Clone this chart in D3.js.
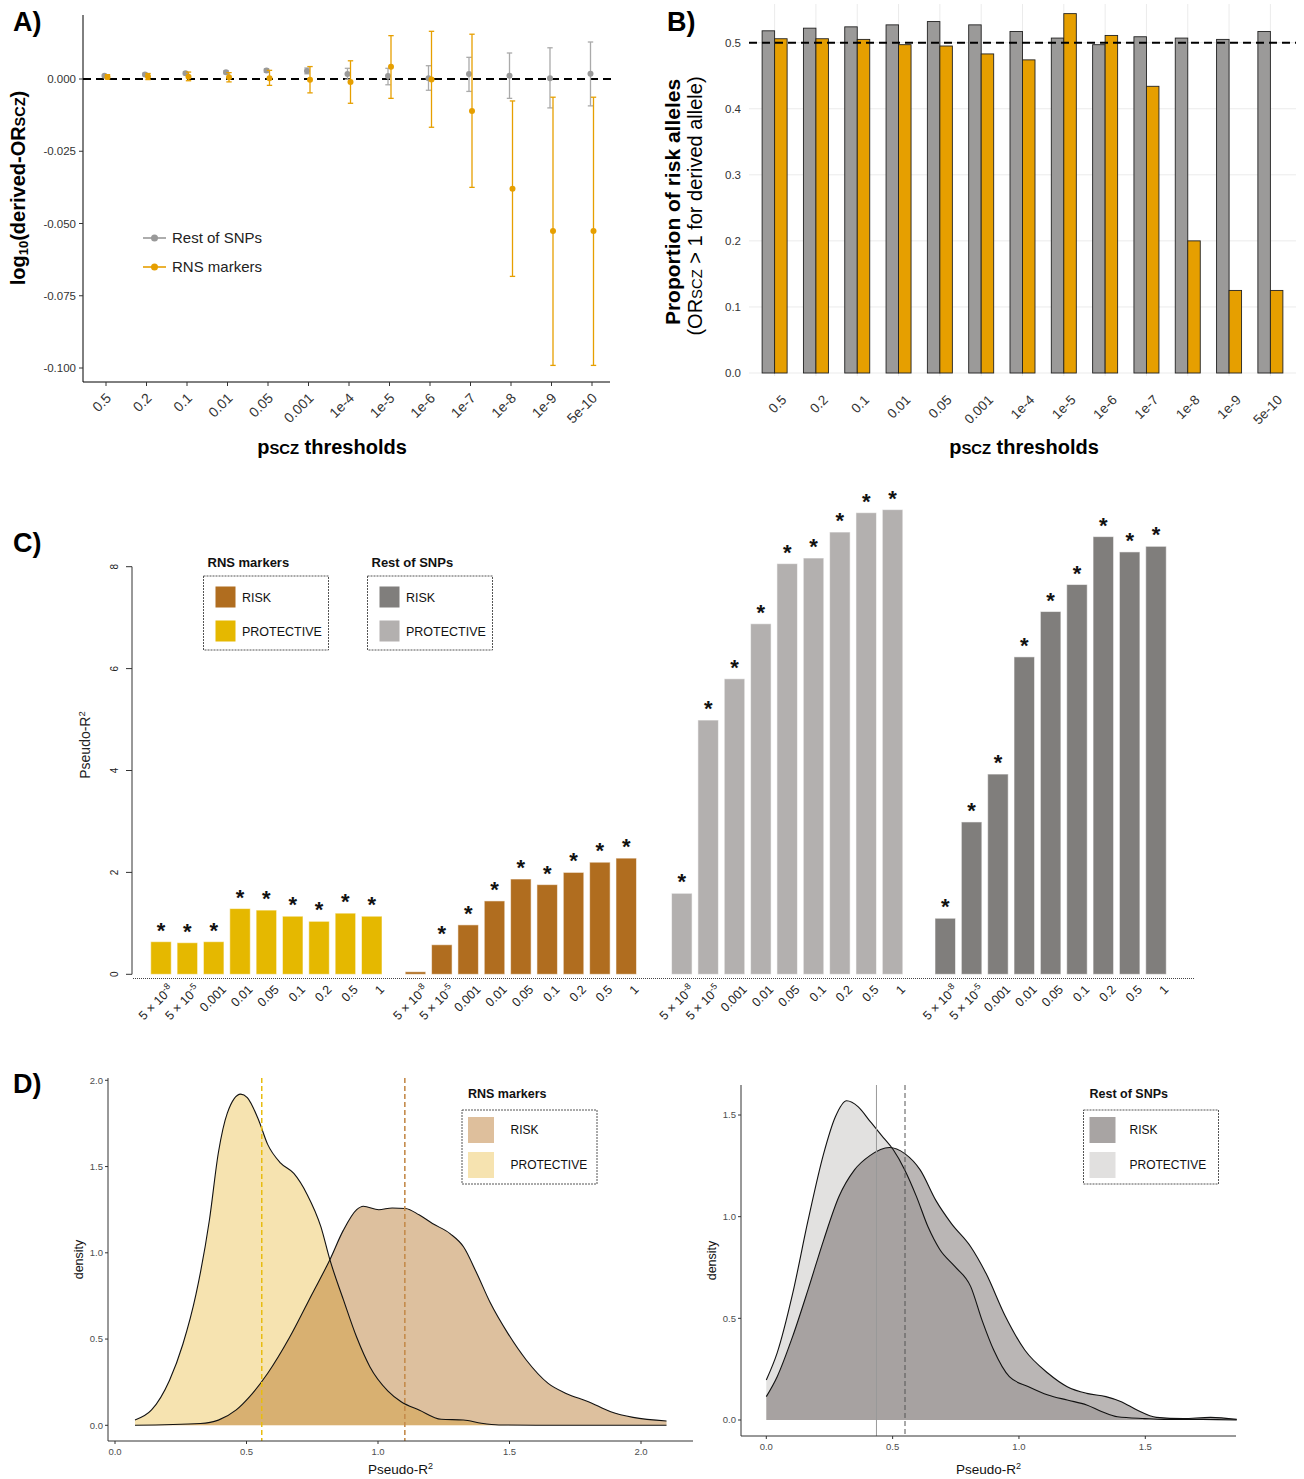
<!DOCTYPE html>
<html>
<head>
<meta charset="utf-8">
<script src="https://cdn.jsdelivr.net/npm/d3@7"></script>
<style>
  body { margin: 0; background: #fff; }
  svg text { font-family: "Liberation Sans", Arial, Helvetica, sans-serif; }
</style>
</head>
<body>
<svg id="fig" width="1304" height="1479"></svg>
<script>
// ---------- Panels A & B: p-value thresholds ----------
const thresholdsAB = ["0.5","0.2","0.1","0.01","0.05","0.001","1e-4","1e-5","1e-6","1e-7","1e-8","1e-9","5e-10"];

// A) mean log10(derived OR) with confidence interval
const restLog10OR = [0.0011,0.0016,0.0020,0.0023,0.0029,0.0028,0.0017,0.0010,0.0003,0.0017,0.0011,0.0003,0.0018];
const restLow     = [0.0008,0.0012,0.0015,0.0018,0.0023,0.0018,-0.0001,-0.0020,-0.0039,-0.0043,-0.0067,-0.0100,-0.0093];
const restHigh    = [0.0014,0.0020,0.0025,0.0028,0.0035,0.0038,0.0037,0.0037,0.0046,0.0075,0.0090,0.0108,0.0128];
const rnsLog10OR  = [0.0007,0.0009,0.0008,0.0006,0.0003,-0.0003,-0.0010,0.0042,-0.0002,-0.0111,-0.0380,-0.0526,-0.0526];
const rnsLow      = [0.0000,-0.0002,-0.0006,-0.0010,-0.0022,-0.0048,-0.0084,-0.0067,-0.0167,-0.0375,-0.0683,-0.0991,-0.0991];
const rnsHigh     = [0.0015,0.0019,0.0024,0.0022,0.0030,0.0043,0.0063,0.0150,0.0165,0.0155,-0.0076,-0.0063,-0.0063];

// B) proportion of risk alleles
const restRiskProportion = [0.518,0.522,0.524,0.527,0.532,0.527,0.517,0.507,0.497,0.509,0.507,0.505,0.517];
const rnsRiskProportion  = [0.506,0.506,0.505,0.497,0.495,0.483,0.474,0.544,0.511,0.434,0.200,0.125,0.125];

// ---------- Panel C: PRS pseudo-R2 ----------
const prsThresholds = ["5 × 10^-8","5 × 10^-5","0.001","0.01","0.05","0.1","0.2","0.5","1"];
const rnsProtectiveR2  = [0.64,0.62,0.64,1.29,1.26,1.14,1.04,1.20,1.14];
const rnsRiskR2        = [0.05,0.58,0.97,1.44,1.87,1.76,2.00,2.20,2.28];
const restProtectiveR2 = [1.59,4.99,5.80,6.88,8.06,8.17,8.68,9.06,9.12];
const restRiskR2       = [1.10,2.99,3.93,6.23,7.12,7.65,8.59,8.29,8.40];
const rnsProtectiveSig  = [1,1,1,1,1,1,1,1,1];
const rnsRiskSig        = [0,1,1,1,1,1,1,1,1];
const restProtectiveSig = [1,1,1,1,1,1,1,1,1];
const restRiskSig       = [1,1,1,1,1,1,1,1,1];

// ---------- Panel D: pseudo-R2 densities ----------
const rnsProtectiveDensity = [[0.076,0.031],[0.139,0.089],[0.207,0.26],[0.258,0.47],[0.308,0.76],[0.359,1.19],[0.393,1.58],[0.427,1.81],[0.478,1.92],[0.503,1.90],[0.546,1.77],[0.58,1.63],[0.63,1.52],[0.68,1.46],[0.73,1.34],[0.783,1.15],[0.817,0.96],[0.868,0.73],[0.919,0.51],[0.969,0.34],[1.037,0.20],[1.088,0.137],[1.156,0.089],[1.24,0.035],[1.325,0.031],[1.393,0.012],[1.46,0.002],[1.6,0.0],[1.8,0.0],[2.097,0.0]];
const rnsRiskDensity = [[0.076,0.0],[0.325,0.01],[0.393,0.03],[0.461,0.089],[0.512,0.166],[0.58,0.30],[0.664,0.51],[0.749,0.76],[0.817,0.96],[0.868,1.13],[0.919,1.25],[0.944,1.27],[1.003,1.25],[1.054,1.26],[1.105,1.257],[1.156,1.22],[1.207,1.17],[1.275,1.11],[1.325,1.035],[1.376,0.88],[1.427,0.71],[1.495,0.53],[1.563,0.38],[1.647,0.243],[1.715,0.185],[1.8,0.137],[1.885,0.079],[1.97,0.046],[2.097,0.025]];
const restProtectiveDensity = [[0,0.197],[0.043,0.33],[0.104,0.62],[0.165,0.98],[0.227,1.31],[0.273,1.49],[0.318,1.57],[0.364,1.54],[0.41,1.47],[0.456,1.40],[0.502,1.33],[0.548,1.23],[0.594,1.10],[0.64,0.95],[0.686,0.84],[0.747,0.754],[0.809,0.656],[0.854,0.49],[0.9,0.344],[0.962,0.213],[1.038,0.164],[1.115,0.123],[1.191,0.098],[1.268,0.074],[1.329,0.041],[1.39,0.016],[1.498,0.007],[1.574,0.003],[1.727,0.003],[1.862,0.0]];
const restRiskDensity = [[0,0.115],[0.043,0.213],[0.104,0.41],[0.165,0.64],[0.227,0.885],[0.288,1.10],[0.349,1.23],[0.41,1.30],[0.487,1.34],[0.548,1.31],[0.609,1.23],[0.671,1.08],[0.732,0.967],[0.809,0.852],[0.87,0.72],[0.946,0.51],[1.023,0.344],[1.115,0.23],[1.191,0.164],[1.268,0.131],[1.344,0.115],[1.405,0.09],[1.467,0.049],[1.544,0.013],[1.65,0.007],[1.758,0.013],[1.862,0.003]];
const rnsProtectiveMean = 0.558, rnsRiskMean = 1.102;
const restProtectiveMean = 0.436, restRiskMean = 0.549;

const svg = d3.select("#fig");
const GREY = "#999999", ORANGE = "#E69F00";

function panelLabel(txt, x, y) {
  svg.append("text").attr("x", x).attr("y", y).attr("font-size", 27).attr("font-weight", "bold").text(txt);
}
panelLabel("A)", 13, 31);
panelLabel("B)", 667, 31);
panelLabel("C)", 13, 552);
panelLabel("D)", 13, 1093);

// rich label with a small-caps style "SCZ" piece
function sczTitle(sel, pre, post, size, weight) {
  sel.attr("font-size", size).attr("font-weight", weight);
  sel.append("tspan").text(pre);
  sel.append("tspan").attr("font-size", size * 0.74).text("SCZ");
  sel.append("tspan").text(post);
}

// ================= Panel A =================
{
  const g = svg.append("g");
  const xA = d3.scalePoint().domain(thresholdsAB).range([106, 592]);
  const yA = d3.scaleLinear().domain([-0.1, 0]).range([368, 79]);
  const left = 83, right = 610, top = 15, bottom = 382;

  // axes
  g.append("line").attr("x1", left).attr("x2", left).attr("y1", top).attr("y2", bottom).attr("stroke", "#000");
  g.append("line").attr("x1", left).attr("x2", right).attr("y1", bottom).attr("y2", bottom).attr("stroke", "#000");
  const yt = [0, -0.025, -0.05, -0.075, -0.1];
  g.selectAll(".yt").data(yt).join("line").attr("x1", left - 4).attr("x2", left).attr("y1", d => yA(d)).attr("y2", d => yA(d)).attr("stroke", "#333");
  g.selectAll(".yl").data(yt).join("text").attr("x", left - 7).attr("y", d => yA(d)).attr("dy", "0.35em")
    .attr("text-anchor", "end").attr("font-size", 11.5).attr("fill", "#333").text(d => d.toFixed(3));
  g.selectAll(".xt").data(thresholdsAB).join("line").attr("x1", d => xA(d)).attr("x2", d => xA(d)).attr("y1", bottom).attr("y2", bottom + 4).attr("stroke", "#333");
  g.selectAll(".xl").data(thresholdsAB).join("text")
    .attr("transform", d => `translate(${xA(d) - 1},${392}) rotate(-45)`)
    .attr("text-anchor", "end").attr("dy", "0.71em").attr("font-size", 14).attr("fill", "#333").text(d => d);

  // reference line
  g.append("line").attr("x1", left).attr("x2", right + 2).attr("y1", yA(0)).attr("y2", yA(0))
    .attr("stroke", "#000").attr("stroke-width", 2).attr("stroke-dasharray", "8,5");

  const series = [
    {mean: restLog10OR, lo: restLow, hi: restHigh, color: GREY, bar: "#aaaaaa", dx: -1.5},
    {mean: rnsLog10OR, lo: rnsLow, hi: rnsHigh, color: ORANGE, bar: ORANGE, dx: 1.5}
  ];
  series.forEach(s => {
    const gs = g.append("g");
    thresholdsAB.forEach((c, i) => {
      const x = xA(c) + s.dx;
      gs.append("line").attr("x1", x).attr("x2", x).attr("y1", yA(s.lo[i])).attr("y2", yA(s.hi[i])).attr("stroke", s.bar).attr("stroke-width", 1.3);
      [s.lo[i], s.hi[i]].forEach(v => gs.append("line").attr("x1", x - 2.7).attr("x2", x + 2.7).attr("y1", yA(v)).attr("y2", yA(v)).attr("stroke", s.bar).attr("stroke-width", 1.3));
      gs.append("circle").attr("cx", x).attr("cy", yA(s.mean[i])).attr("r", 3).attr("fill", s.color);
    });
  });

  // legend
  [["Rest of SNPs", GREY, 238], ["RNS markers", ORANGE, 267]].forEach(([t, c, y]) => {
    g.append("line").attr("x1", 143).attr("x2", 166).attr("y1", y).attr("y2", y).attr("stroke", c).attr("stroke-width", 1.6);
    g.append("circle").attr("cx", 154.5).attr("cy", y).attr("r", 3.5).attr("fill", c);
    g.append("text").attr("x", 172).attr("y", y).attr("dy", "0.36em").attr("font-size", 15).attr("fill", "#222").text(t);
  });

  // titles
  const yl = g.append("text").attr("transform", "translate(25,188) rotate(-90)").attr("text-anchor", "middle")
    .attr("font-size", 20).attr("font-weight", "bold");
  yl.append("tspan").text("log");
  yl.append("tspan").attr("font-size", 13).attr("dy", 3).text("10");
  yl.append("tspan").attr("dy", -3).text("(derived-OR");
  yl.append("tspan").attr("font-size", 14.5).text("SCZ");
  yl.append("tspan").text(")");
  sczTitle(g.append("text").attr("x", 332).attr("y", 454).attr("text-anchor", "middle"), "p", " thresholds", 20, "bold");
}

// ================= Panel B =================
{
  const g = svg.append("g");
  const xB = d3.scalePoint().domain(thresholdsAB).range([749, 1296]).padding(0.62);
  const yB = d3.scaleLinear().domain([0, 0.5]).range([373, 42.7]);
  const left = 749, right = 1296, bw = 12.5;
  const yt = d3.range(0, 0.51, 0.1);

  g.selectAll(".hg").data(yt).join("line").attr("x1", left).attr("x2", right).attr("y1", d => yB(d)).attr("y2", d => yB(d)).attr("stroke", "#ebebeb");
  g.selectAll(".vg").data(thresholdsAB).join("line").attr("x1", d => xB(d)).attr("x2", d => xB(d)).attr("y1", 4).attr("y2", 376).attr("stroke", "#ebebeb");
  g.selectAll(".yl").data(yt).join("text").attr("x", 741).attr("y", d => yB(d)).attr("dy", "0.35em").attr("text-anchor", "end")
    .attr("font-size", 11.5).attr("fill", "#333").text(d => d.toFixed(1));
  g.selectAll(".xl").data(thresholdsAB).join("text")
    .attr("transform", d => `translate(${xB(d) + 6},${394}) rotate(-45)`)
    .attr("text-anchor", "end").attr("dy", "0.71em").attr("font-size", 13.5).attr("fill", "#333").text(d => d);

  thresholdsAB.forEach((c, i) => {
    g.append("rect").attr("x", xB(c) - bw).attr("width", bw).attr("y", yB(restRiskProportion[i])).attr("height", yB(0) - yB(restRiskProportion[i]))
      .attr("fill", "#9b9a99").attr("stroke", "#222").attr("stroke-width", 0.9);
    g.append("rect").attr("x", xB(c)).attr("width", bw).attr("y", yB(rnsRiskProportion[i])).attr("height", yB(0) - yB(rnsRiskProportion[i]))
      .attr("fill", ORANGE).attr("stroke", "#222").attr("stroke-width", 0.9);
  });
  g.append("line").attr("x1", left).attr("x2", right).attr("y1", yB(0.5)).attr("y2", yB(0.5))
    .attr("stroke", "#000").attr("stroke-width", 2).attr("stroke-dasharray", "8,5");

  g.append("text").attr("transform", "translate(680,202) rotate(-90)").attr("text-anchor", "middle")
    .attr("font-size", 21).attr("font-weight", "bold").text("Proportion of risk alleles");
  sczTitle(g.append("text").attr("transform", "translate(702,206) rotate(-90)").attr("text-anchor", "middle"), "(OR", " > 1 for derived allele)", 20, "normal");
  sczTitle(g.append("text").attr("x", 1024).attr("y", 454).attr("text-anchor", "middle"), "p", " thresholds", 20, "bold");
}

// ================= Panel C =================
{
  const g = svg.append("g");
  const groups = [
    {vals: rnsProtectiveR2, sig: rnsProtectiveSig, color: "#E5B800", start: 0},
    {vals: rnsRiskR2, sig: rnsRiskSig, color: "#B06D1F", start: 9.66},
    {vals: restProtectiveR2, sig: restProtectiveSig, color: "#B3B0AF", start: 19.77},
    {vals: restRiskR2, sig: restRiskSig, color: "#807E7C", start: 29.77}
  ];
  const xC = d3.scaleLinear().domain([0, 37.77]).range([161, 1156]);
  const yC = d3.scaleLinear().domain([0, 8]).range([974.3, 566.7]);
  const bw = 20.5;

  // y axis
  g.append("line").attr("x1", 132).attr("x2", 132).attr("y1", yC(8)).attr("y2", yC(0)).attr("stroke", "#333");
  const yt = [0, 2, 4, 6, 8];
  g.selectAll(".yt").data(yt).join("line").attr("x1", 126).attr("x2", 132).attr("y1", d => yC(d)).attr("y2", d => yC(d)).attr("stroke", "#333");
  g.selectAll(".yl").data(yt).join("text").attr("transform", d => `translate(118,${yC(d)}) rotate(-90)`)
    .attr("text-anchor", "middle").attr("font-size", 10).attr("fill", "#222").text(d => d);
  const yl = g.append("text").attr("transform", "translate(90,745) rotate(-90)").attr("text-anchor", "middle").attr("font-size", 14).attr("fill", "#222");
  yl.append("tspan").text("Pseudo-R");
  yl.append("tspan").attr("font-size", 9.5).attr("dy", -5).text("2");

  // baseline
  g.append("line").attr("x1", 133).attr("x2", 1195).attr("y1", 978.5).attr("y2", 978.5)
    .attr("stroke", "#444").attr("stroke-width", 1).attr("stroke-dasharray", "1,1");

  groups.forEach(gr => {
    gr.vals.forEach((v, i) => {
      const cx = xC(gr.start + i);
      g.append("rect").attr("x", cx - bw / 2).attr("width", bw).attr("y", yC(v)).attr("height", yC(0) - yC(v))
        .attr("fill", gr.color).attr("stroke", "rgba(255,255,255,0.55)").attr("stroke-width", 1);
      if (gr.sig[i]) {
        g.append("text").attr("x", cx).attr("y", yC(v) - 4).attr("text-anchor", "middle")
          .attr("font-size", 22).attr("font-weight", "bold").attr("fill", "#111").text("*");
      }
      const lab = prsThresholds[i];
      const t = g.append("text").attr("transform", `translate(${cx + 7},${984}) rotate(-45)`)
        .attr("text-anchor", "end").attr("dy", "0.71em").attr("font-size", 12.5).attr("fill", "#222");
      if (lab.includes("^")) {
        const [base, ex] = lab.split("^");
        t.append("tspan").text(base);
        t.append("tspan").attr("font-size", 9).attr("dy", -5).text(ex);
      } else t.text(lab);
    });
  });

  // legends
  function legendC(title, x, colors) {
    g.append("text").attr("x", x + 4).attr("y", 567).attr("font-size", 13).attr("font-weight", "bold").attr("fill", "#111").text(title);
    g.append("rect").attr("x", x).attr("y", 576).attr("width", 125).attr("height", 74).attr("fill", "none")
      .attr("stroke", "#555").attr("stroke-dasharray", "2,1");
    [["RISK", colors[0], 597], ["PROTECTIVE", colors[1], 631]].forEach(([t, c, y]) => {
      g.append("rect").attr("x", x + 12).attr("y", y - 10.5).attr("width", 20).attr("height", 21).attr("fill", c);
      g.append("text").attr("x", x + 38.5).attr("y", y).attr("dy", "0.36em").attr("font-size", 12.5).attr("fill", "#111").text(t);
    });
  }
  legendC("RNS markers", 203.5, ["#B06D1F", "#E5B800"]);
  legendC("Rest of SNPs", 367.5, ["#807E7C", "#B3B0AF"]);
}

// ================= Panel D =================
function densityPanel(cfg) {
  const g = svg.append("g");
  const x = d3.scaleLinear().domain(cfg.xTickDomain).range(cfg.xTickRange);
  const y = d3.scaleLinear().domain(cfg.yTickDomain).range(cfg.yTickRange);
  const area = d3.area().x(d => x(d[0])).y0(y(0)).y1(d => y(d[1])).curve(d3.curveMonotoneX);
  const line = d3.line().x(d => x(d[0])).y(d => y(d[1])).curve(d3.curveMonotoneX);

  g.append("path").datum(cfg.protective).attr("d", area).attr("fill", cfg.protFill);
  g.append("path").datum(cfg.risk).attr("d", area).attr("fill", cfg.riskFill).attr("fill-opacity", cfg.riskOpacity);
  g.append("path").datum(cfg.protective).attr("d", line).attr("fill", "none").attr("stroke", "#111").attr("stroke-width", 1.1);
  g.append("path").datum(cfg.risk).attr("d", line).attr("fill", "none").attr("stroke", "#111").attr("stroke-width", 1.1);

  cfg.vlines.forEach(v => {
    g.append("line").attr("x1", x(v.at)).attr("x2", x(v.at)).attr("y1", cfg.top).attr("y2", cfg.bottom)
      .attr("stroke", v.color).attr("stroke-width", v.w).attr("stroke-dasharray", v.dash);
  });

  // axes
  g.append("line").attr("x1", cfg.left).attr("x2", cfg.left).attr("y1", cfg.top).attr("y2", cfg.bottom).attr("stroke", "#333");
  g.append("line").attr("x1", cfg.left).attr("x2", cfg.right).attr("y1", cfg.bottom).attr("y2", cfg.bottom).attr("stroke", "#333");
  g.selectAll(".yt").data(cfg.yTicks).join("line").attr("x1", cfg.left - 3).attr("x2", cfg.left).attr("y1", d => y(d)).attr("y2", d => y(d)).attr("stroke", "#333");
  g.selectAll(".yl").data(cfg.yTicks).join("text").attr("x", cfg.left - 5).attr("y", d => y(d)).attr("dy", "0.35em")
    .attr("text-anchor", "end").attr("font-size", 9.5).attr("fill", "#4d4d4d").text(d => d.toFixed(1));
  g.selectAll(".xt").data(cfg.xTicks).join("line").attr("x1", d => x(d)).attr("x2", d => x(d)).attr("y1", cfg.bottom).attr("y2", cfg.bottom + 3).attr("stroke", "#333");
  g.selectAll(".xl").data(cfg.xTicks).join("text").attr("x", d => x(d)).attr("y", cfg.bottom + 14)
    .attr("text-anchor", "middle").attr("font-size", 9.5).attr("fill", "#4d4d4d").text(d => d.toFixed(1));

  g.append("text").attr("transform", `translate(${cfg.left - 25},${(cfg.top + cfg.bottom) / 2}) rotate(-90)`).attr("text-anchor", "middle")
    .attr("font-size", 12.5).attr("fill", "#111").text("density");
  const xl = g.append("text").attr("x", (cfg.left + cfg.right) / 2).attr("y", 1474).attr("text-anchor", "middle").attr("font-size", 13.5).attr("fill", "#111");
  xl.append("tspan").text("Pseudo-R");
  xl.append("tspan").attr("font-size", 9).attr("dy", -5).text("2");

  // legend
  const L = cfg.legend;
  g.append("text").attr("x", L.x + 6).attr("y", 1098).attr("font-size", 12.5).attr("font-weight", "bold").attr("fill", "#111").text(L.title);
  g.append("rect").attr("x", L.x).attr("y", 1110).attr("width", L.w).attr("height", 74).attr("fill", "none")
    .attr("stroke", "#555").attr("stroke-dasharray", "2,1");
  [["RISK", L.colors[0], 1130], ["PROTECTIVE", L.colors[1], 1165]].forEach(([t, c, yy]) => {
    g.append("rect").attr("x", L.x + 6).attr("y", yy - 13).attr("width", 26).attr("height", 26).attr("fill", c);
    g.append("text").attr("x", L.x + L.textDx).attr("y", yy).attr("dy", "0.36em").attr("font-size", 12).attr("fill", "#111").text(t);
  });
}

densityPanel({
  protective: rnsProtectiveDensity, risk: rnsRiskDensity,
  protFill: "#F6E3B0", riskFill: "#B06D1E", riskOpacity: 0.43,
  xTickDomain: [0, 2], xTickRange: [115, 641], yTickDomain: [0, 2], yTickRange: [1425.3, 1080.3],
  left: 108, right: 693, top: 1078, bottom: 1441,
  xTicks: [0, 0.5, 1, 1.5, 2], yTicks: [0, 0.5, 1, 1.5, 2],
  vlines: [{at: rnsProtectiveMean, color: "#E8BC10", w: 1.5, dash: "5,3"}, {at: rnsRiskMean, color: "#C48B4C", w: 1.6, dash: "5,3"}],
  legend: {title: "RNS markers", x: 462, w: 135, textDx: 48.5, colors: ["#DEBF9C", "#F6E3B0"]}
});
densityPanel({
  protective: restProtectiveDensity, risk: restRiskDensity,
  protFill: "#E2E1E0", riskFill: "#3A2E2C", riskOpacity: 0.35,
  xTickDomain: [0, 1.5], xTickRange: [766.3, 1145.3], yTickDomain: [0, 1.5], yTickRange: [1420, 1115],
  left: 741, right: 1236, top: 1085, bottom: 1436,
  xTicks: [0, 0.5, 1, 1.5], yTicks: [0, 0.5, 1, 1.5],
  vlines: [{at: restProtectiveMean, color: "#999", w: 1, dash: null}, {at: restRiskMean, color: "#555", w: 1, dash: "5,3"}],
  legend: {title: "Rest of SNPs", x: 1083.5, w: 135, textDx: 46, colors: ["#A8A4A3", "#E1E0DF"]}
});
</script>
</body>
</html>
